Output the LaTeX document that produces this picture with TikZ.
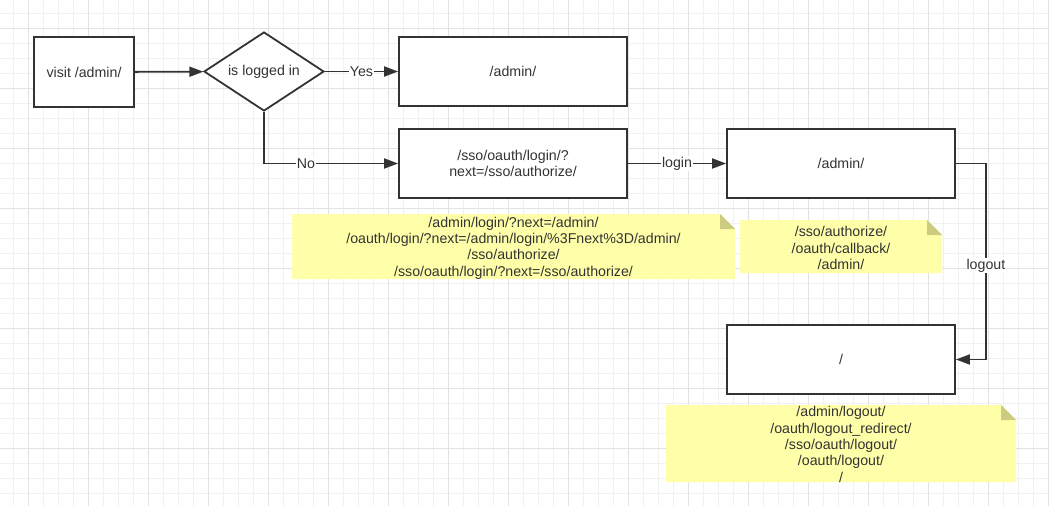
\documentclass[tikz,border=0pt]{standalone}
\usepackage{fontspec}
\setmainfont{Liberation Sans}
\usetikzlibrary{shapes.geometric,arrows.meta}
\definecolor{linec}{HTML}{333333}
\definecolor{textc}{HTML}{333333}
\definecolor{minorg}{HTML}{F1F1F1}
\definecolor{majorg}{HTML}{E2E2E2}
\definecolor{notey}{HTML}{FFFFAA}
\definecolor{foldc}{HTML}{CCCC80}
\pgfdeclarelayer{gridlayer}
\pgfdeclarelayer{notelayer}
\pgfsetlayers{gridlayer,notelayer,main}
\tikzset{
  boxnode/.style={draw=linec, line width=1.8pt, fill=white, text=textc, align=center, inner sep=2pt},
  dianode/.style={diamond, draw=linec, line width=1.8pt, fill=white, text=textc, inner sep=0pt, aspect=1.52, minimum width=120pt, minimum height=79pt},
  notenode/.style={inner sep=0pt, outer sep=0pt, text=textc, align=center},
  notetext/.style={inner sep=0pt, text=textc, align=center},
  lbl/.style={fill=white, inner sep=1pt, text=textc},
  arr/.style={draw=linec, line width=1.8pt, -{Triangle[length=14pt,width=10pt]}},
  minorgrid/.style={draw=minorg, line width=0.8pt},
  majorgrid/.style={draw=majorg, line width=0.8pt},
  notefill/.style={fill=notey},
  foldfill/.style={fill=foldc}
}
\begin{document}
\begin{tikzpicture}[x=1pt, y=-1pt, font=\fontsize{14.2}{16.4}\selectfont]
\useasboundingbox (0,0) rectangle (1049,506);
\begin{pgfonlayer}{gridlayer}
  \fill[white] (0,0) rectangle (1049,506);
  \foreach \x in {13,28,...,1048} \draw[minorgrid] (\x,0) -- (\x,506);
  \foreach \y in {13,28,...,505} \draw[minorgrid] (0,\y) -- (1049,\y);
  \foreach \x in {28,88,...,1048} \draw[majorgrid] (\x,0) -- (\x,506);
  \foreach \y in {28,88,...,505} \draw[majorgrid] (0,\y) -- (1049,\y);
\end{pgfonlayer}

\node[boxnode, minimum width=100pt, minimum height=70pt] (visit) at (84,72) {visit /admin/};
\node[dianode] (dec) at (264,71.5) {is logged in};
\node[boxnode, minimum width=228pt, minimum height=69pt] (yes) at (513,71.5) {/admin/};
\node[boxnode, minimum width=228pt, minimum height=69pt] (sso) at (513,163.5) {/sso/oauth/login/?\\next=/sso/authorize/};
\node[boxnode, minimum width=228pt, minimum height=69pt] (adm) at (841,163.5) {/admin/};
\node[boxnode, minimum width=228pt, minimum height=69pt] (root) at (841,359.5) {/};

\node[notenode, minimum width=443pt, minimum height=65pt] (n1) at (513.5,246.5) {};
\node[notetext] (t1) at (513.5,248)
  {/admin/login/?next=/admin/\\/oauth/login/?next=/admin/login/\%3Fnext\%3D/admin/\\/sso/authorize/\\/sso/oauth/login/?next=/sso/authorize/};
\node[notenode, minimum width=202pt, minimum height=53pt] (n2) at (841,246.5) {};
\node[notetext] (t2) at (841,248) {/sso/authorize/\\/oauth/callback/\\/admin/};
\node[notenode, minimum width=350pt, minimum height=77pt] (n3) at (841,443.5) {};
\node[notetext] (t3) at (841,444.5)
  {/admin/logout/\\/oauth/logout\_redirect/\\/sso/oauth/logout/\\/oauth/logout/\\/};

\begin{pgfonlayer}{notelayer}
  \foreach \n in {n1,n2,n3} {
    \fill[notefill] (\n.north west) -- ([xshift=-15pt]\n.north east) -- ([yshift=-15pt]\n.north east) -- (\n.south east) -- (\n.south west) -- cycle;
    \fill[foldfill] ([xshift=-15pt]\n.north east) -- ([xshift=-15pt,yshift=-15pt]\n.north east) -- ([yshift=-15pt]\n.north east) -- cycle;
  }
\end{pgfonlayer}

\draw[arr] (visit) -- (dec);
\draw[arr] (dec) -- node[lbl]{Yes} (yes);
\draw[arr] (dec.south) |- node[lbl, pos=0.656]{No} (sso.west);
\draw[arr] (sso) -- node[lbl]{login} (adm);
\draw[arr] (adm.east) -- ++(30,0) |- node[lbl, pos=0.26]{logout} (root.east);
\end{tikzpicture}
\end{document}
